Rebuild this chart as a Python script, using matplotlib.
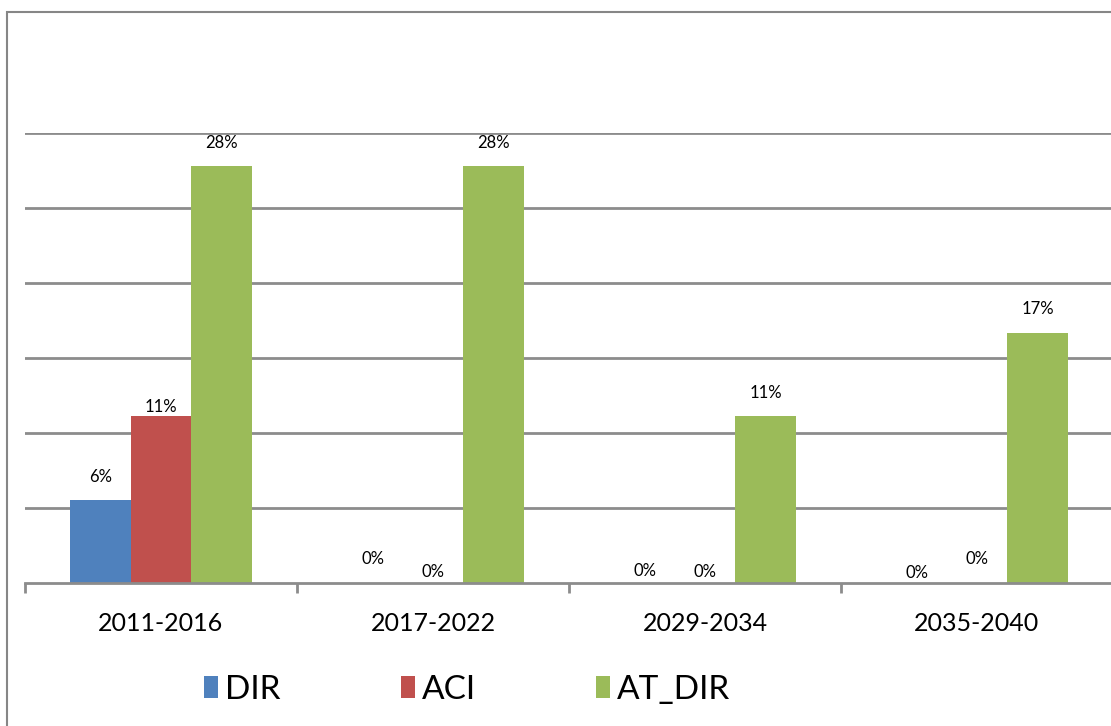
import numpy as np
import matplotlib
matplotlib.use("Agg")
from matplotlib import pyplot as plt
from matplotlib.patches import Rectangle

plt.rcParams['font.family'] = ['Lato', 'DejaVu Sans']

categories = ["2011-2016", "2017-2022", "2029-2034", "2035-2040"]
series_names = ["DIR", "ACI", "AT_DIR"]
dir_vals = [5.56, 0, 0, 0]
aci_vals = [11.11, 0, 0, 0]
at_dir_vals = [27.78, 27.78, 11.11, 16.67]
labels_dir = ["6%", "0%", "0%", "0%"]
labels_aci = ["11%", "0%", "0%", "0%"]
labels_at_dir = ["28%", "28%", "11%", "17%"]

colors = ["#4f81bd", "#c0504d", "#9bbb59"]
grid_col = "#8c8c8c"

fig = plt.figure(figsize=(11.11, 7.26), dpi=100)
# chart frame (cropped at right and bottom)
fig.patches.append(Rectangle((7 / 1111, -0.1), 1.2, (726 - 12) / 726 + 0.1,
                             transform=fig.transFigure, fill=False,
                             edgecolor="#868686", linewidth=1.5))

ax = fig.add_axes([25 / 1111, 143 / 726, 1088 / 1111, 450 / 726])

x = np.arange(len(categories))
w = 2 / 9
all_vals = [dir_vals, aci_vals, at_dir_vals]
all_labels = [labels_dir, labels_aci, labels_at_dir]
for i, (vals, col) in enumerate(zip(all_vals, colors)):
    ax.bar(x + (i - 1) * w, vals, width=w, color=col, label=series_names[i], zorder=3)

# label offsets in points (Excel placement)
offs = {
    (0, 0): 16, (1, 0): 7,
    (0, 1): 17, (1, 1): 8,
    (0, 2): 9, (1, 2): 8,
    (0, 3): 7, (1, 3): 17,
}
for i, (vals, labs) in enumerate(zip(all_vals, all_labels)):
    for j, (v, lab) in enumerate(zip(vals, labs)):
        dy = offs.get((i, j), 17)
        ax.annotate(lab, (x[j] + (i - 1) * w, v), xytext=(0, dy),
                    textcoords="offset points", ha="center", va="center",
                    fontsize=12, color="black")

ax.set_xlim(-0.5, 3.5)
ax.set_ylim(0, 30)
ax.set_yticks([5, 10, 15, 20, 25, 30])
ax.yaxis.grid(True, color=grid_col, linewidth=2)
ax.tick_params(axis="y", left=False, labelleft=False)
ax.set_xticks(x)
ax.set_xticklabels(categories, fontsize=18)
ax.set_xticks(np.arange(-0.5, 4.0, 1), minor=True)
ax.tick_params(axis="x", which="major", length=0, pad=21)
ax.tick_params(axis="x", which="minor", length=7, width=2, color=grid_col)
for s in ["left", "right", "top"]:
    ax.spines[s].set_visible(False)
ax.spines["bottom"].set_color(grid_col)
ax.spines["bottom"].set_linewidth(2)
ax.spines["bottom"].set_zorder(4)

fig.legend(loc="center", bbox_to_anchor=(467 / 1111, 36 / 726), ncol=3,
           frameon=False, fontsize=24,
           handlelength=0.42, handleheight=0.63,
           handletextpad=0.21, columnspacing=3.6)

fig.savefig("out.png", dpi=100)
